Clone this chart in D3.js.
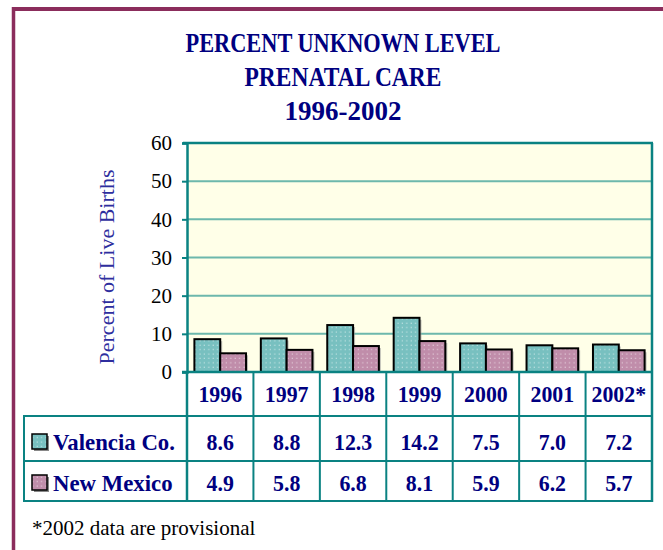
<!DOCTYPE html>
<html><head><meta charset="utf-8">
<script src="https://cdn.jsdelivr.net/npm/d3@7"></script>
<style>
html,body{margin:0;padding:0;background:#fff;}
svg{display:block;}
</style></head>
<body>
<script>
const titleLines = ["PERCENT UNKNOWN LEVEL", "PRENATAL CARE", "1996-2002"];
const years = ["1996", "1997", "1998", "1999", "2000", "2001", "2002*"];
const seriesNames = ["Valencia Co.", "New Mexico"];
const valencia = [8.6, 8.8, 12.3, 14.2, 7.5, 7.0, 7.2];
const newMexico = [4.9, 5.8, 6.8, 8.1, 5.9, 6.2, 5.7];
const yTicks = [0, 10, 20, 30, 40, 50, 60];
const yLabel = "Percent of Live Births";
const footnote = "*2002 data are provisional";

(function () {
const W = 663, H = 550;
const svg = d3.select("body").append("svg").attr("width", W).attr("height", H);
const defs = svg.append("defs");
const fills = ["#78C0C0", "#C08DAA"];
fills.forEach((c, i) => {
  const p = defs.append("pattern").attr("id", "pat" + i).attr("patternUnits", "userSpaceOnUse")
    .attr("width", 4.4).attr("height", 4.4);
  p.append("rect").attr("width", 4.4).attr("height", 4.4).attr("fill", c);
  p.append("rect").attr("x", 1.5).attr("y", 1.5).attr("width", 1).attr("height", 1).attr("fill", "#fff").attr("opacity", 0.75);
});

const navy = "#000080", teal = "#0A8282", grid = "#6DB8AC";
const serif = "'Liberation Serif','Times New Roman',serif";

// frame
svg.append("line").attr("x1", 12).attr("x2", W).attr("y1", 9).attr("y2", 9).attr("stroke", "#8B2D5C").attr("stroke-width", 4);
svg.append("line").attr("x1", 13.5).attr("x2", 13.5).attr("y1", 7).attr("y2", H).attr("stroke", "#8B2D5C").attr("stroke-width", 3.5);

// title
const titleBase = [52, 86, 120];
const titleLen = [315, 197, null];
titleLines.forEach((t, i) => {
  const tx = svg.append("text").attr("x", 343).attr("y", titleBase[i]).attr("text-anchor", "middle")
    .attr("font-family", serif).attr("font-weight", "bold").attr("font-size", 27).attr("fill", navy).text(t);
  if (titleLen[i]) tx.attr("textLength", titleLen[i]).attr("lengthAdjust", "spacingAndGlyphs");
});

// scales
const pL = 187, pR = 652, pT = 143, pB = 372;
const x = d3.scaleBand().domain(years).range([pL, pR]).padding(0);
const xs = d3.scaleBand().domain(seriesNames).range([7.4, x.bandwidth() - 7.4]).padding(0);
const y = d3.scaleLinear().domain([0, 60]).range([pB, pT]);

// plot bg
svg.append("rect").attr("x", pL).attr("y", pT).attr("width", pR - pL).attr("height", pB - pT).attr("fill", "#FFFFE8");

// grid
svg.append("g").selectAll("line").data(yTicks.filter(d => d > 0 && d < 60)).join("line")
  .attr("x1", pL).attr("x2", pR).attr("y1", d => y(d)).attr("y2", d => y(d))
  .attr("stroke", grid).attr("stroke-width", 2);

// bars
const seriesVals = [valencia, newMexico];
const barG = svg.append("g");
seriesVals.forEach((vals, si) => {
  barG.selectAll(null).data(vals).join("rect")
    .attr("x", (d, i) => x(years[i]) + xs(seriesNames[si]) + 2)
    .attr("y", d => y(d) + 2).attr("width", xs.bandwidth()).attr("height", d => y(0) - y(d) - 2)
    .attr("fill", "#9a9a9a").attr("opacity", 0.6);
});
seriesVals.forEach((vals, si) => {
  barG.selectAll(null).data(vals).join("rect")
    .attr("x", (d, i) => x(years[i]) + xs(seriesNames[si]))
    .attr("y", d => y(d)).attr("width", xs.bandwidth()).attr("height", d => y(0) - y(d))
    .attr("fill", "url(#pat" + si + ")").attr("stroke", "#000").attr("stroke-width", 2);
});

// y axis
const yAxis = svg.append("g").attr("transform", `translate(${pL},0)`)
  .call(d3.axisLeft(y).tickValues(yTicks).tickSize(5).tickPadding(10).tickFormat(d3.format("d")));
yAxis.select(".domain").attr("stroke", teal).attr("stroke-width", 2.5);
yAxis.selectAll(".tick line").attr("stroke", teal).attr("stroke-width", 2);
yAxis.selectAll(".tick text").attr("font-family", serif).attr("font-size", 21).attr("fill", "#000");

// top and right border, baseline
svg.append("line").attr("x1", pL - 4).attr("x2", pR + 1).attr("y1", pT).attr("y2", pT).attr("stroke", teal).attr("stroke-width", 2.5);
svg.append("line").attr("x1", pR).attr("x2", pR).attr("y1", pT).attr("y2", 502).attr("stroke", teal).attr("stroke-width", 2.5);
svg.append("line").attr("x1", pL - 5).attr("x2", pR).attr("y1", pB).attr("y2", pB).attr("stroke", teal).attr("stroke-width", 2.5);

// y label
svg.append("text").attr("transform", "translate(114,267) rotate(-90)").attr("text-anchor", "middle")
  .attr("font-family", serif).attr("font-size", 22).attr("fill", "#2E2E9E").text(yLabel);

// table
const tL = 24;
const tg = svg.append("g").attr("stroke", teal).attr("stroke-width", 2);
[416, 461, 501].forEach(yy => tg.append("line").attr("x1", tL).attr("x2", pR + 1).attr("y1", yy).attr("y2", yy));
tg.append("line").attr("x1", tL).attr("x2", tL).attr("y1", 415).attr("y2", 502);
tg.append("line").attr("x1", pL).attr("x2", pL).attr("y1", pB).attr("y2", 502).attr("stroke-width", 2.5);
tg.selectAll(null).data(years.slice(1)).join("line")
  .attr("x1", d => x(d)).attr("x2", d => x(d)).attr("y1", pB).attr("y2", 502);

function cellText(g, tx, ty, s, anchor, sx) {
  g.append("text").attr("transform", `translate(${tx},${ty}) scale(${sx || 0.91},1)`)
    .attr("text-anchor", anchor || "middle").attr("font-family", serif).attr("font-weight", "bold")
    .attr("font-size", 24).attr("fill", navy).text(s);
}
const txt = svg.append("g");
years.forEach(yr => cellText(txt, x(yr) + x.bandwidth() / 2, 402, yr));
const rowBase = [450, 491];
seriesVals.forEach((vals, si) => {
  vals.forEach((v, i) => cellText(txt, x(years[i]) + x.bandwidth() / 2, rowBase[si], v.toFixed(1)));
  const sy = rowBase[si] - 15;
  txt.append("rect").attr("x", 34).attr("y", sy + 1).attr("width", 15).attr("height", 15).attr("fill", "#888");
  txt.append("rect").attr("x", 32).attr("y", sy - 1).attr("width", 15).attr("height", 15)
    .attr("fill", "url(#pat" + si + ")").attr("stroke", "#000").attr("stroke-width", 1.5);
  cellText(txt, 53, rowBase[si], seriesNames[si], "start", 0.95);
});

// footnote
svg.append("text").attr("x", 32).attr("y", 535).attr("font-family", serif).attr("font-size", 21)
  .attr("fill", "#000").text(footnote);
})();
</script>
</body></html>
